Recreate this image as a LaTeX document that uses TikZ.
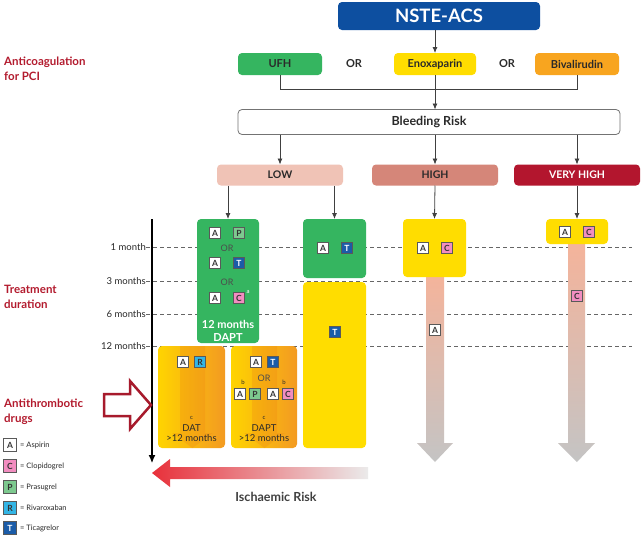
\documentclass[tikz,border=0pt]{standalone}
\usepackage{fontspec}
\setmainfont{Lato}
\usetikzlibrary{arrows.meta}
\definecolor{nsteblue}{HTML}{0D4FA0}
\definecolor{ggreen}{HTML}{35B560}
\definecolor{gyellow}{HTML}{FFDD00}
\definecolor{gorange}{HTML}{F8A51F}
\definecolor{lowc}{HTML}{F0C3B6}
\definecolor{highc}{HTML}{D58679}
\definecolor{vhighc}{HTML}{B3162E}
\definecolor{redlab}{HTML}{B31B2E}
\definecolor{redarr}{HTML}{A71A2C}
\definecolor{salmon}{HTML}{F5B39A}
\definecolor{greyend}{HTML}{C4C4C4}
\definecolor{icP}{HTML}{7DC98F}
\definecolor{icT}{HTML}{1B5CA8}
\definecolor{icC}{HTML}{F28DC0}
\definecolor{icR}{HTML}{33B5E5}
\definecolor{txt}{HTML}{2A2A2A}
\definecolor{orL}{HTML}{FFD400}
\definecolor{orR}{HTML}{F39A22}
\definecolor{isRed}{HTML}{E8303A}
\tikzset{
  box/.style={rounded corners=4pt, inner sep=0pt, outer sep=0pt, font=\bfseries\fontsize{11}{13}\selectfont, text=txt},
  riskbox/.style={box, font=\bfseries\fontsize{10.5}{12}\selectfont},
  arr/.style={-{Latex[length=6pt,width=5pt]}, line width=0.8pt, draw=black!75},
  conn/.style={line width=0.8pt, draw=black!75},
  grid/.style={dashed, dash pattern=on 4pt off 3pt, line width=0.8pt, draw=black!60},
  tlab/.style={anchor=east, font=\fontsize{9.5}{11}\selectfont, text=txt, inner sep=0pt},
  redl/.style={anchor=north west, align=left, font=\bfseries\fontsize{11.5}{15}\selectfont, text=redlab, inner sep=0pt},
  icon/.style={draw=black!65, line width=0.7pt, minimum size=11.5pt, inner sep=0pt, font=\bfseries\fontsize{8.5}{9}\selectfont, text=black!80},
  iA/.style={icon, fill=white},
  iP/.style={icon, fill=icP},
  iT/.style={icon, fill=icT, text=white},
  iC/.style={icon, fill=icC},
  iR/.style={icon, fill=icR},
  ortxt/.style={font=\fontsize{9}{10}\selectfont, text=black!70, inner sep=0pt},
  supt/.style={font=\fontsize{6}{7}\selectfont, inner sep=0pt},
  legt/.style={anchor=west, font=\fontsize{7.5}{8}\selectfont, text=txt, inner sep=0pt},
  otxt/.style={align=center, font=\fontsize{9.5}{10.5}\selectfont, text=txt, inner sep=0pt},
}
\begin{document}
\begin{tikzpicture}[x=1pt,y=-1pt]
\useasboundingbox (0,0) rectangle (641,536);
\fill[white] (0,0) rectangle (641,536);

% left red labels
\node[redl] (lab1) at (4,57) {Anticoagulation\\for PCI};
\node[redl] (lab2) at (4,285) {Treatment\\duration};
\node[redl] (lab3) at (4,399) {Antithrombotic\\drugs};

% top
\node[box, fill=nsteblue, text=white, minimum width=202pt, minimum height=28pt, font=\bfseries\fontsize{18.5}{20}\selectfont] (nste) at (439,16) {NSTE-ACS};
\node[box, fill=ggreen, minimum width=84pt, minimum height=22pt] (ufh) at (280,64) {UFH};
\node[box, fill=gyellow, minimum width=82pt, minimum height=22pt] (enox) at (435,64) {Enoxaparin};
\node[box, fill=gorange, minimum width=84pt, minimum height=22pt] (biv) at (577,64) {Bivalirudin};
\node[font=\bfseries\fontsize{11}{13}\selectfont, text=txt] (or1) at (354,64) {OR};
\node[font=\bfseries\fontsize{11}{13}\selectfont, text=txt] (or2) at (507,64) {OR};
\node[box, draw=black!55, line width=0.8pt, fill=white, minimum width=382pt, minimum height=25pt, font=\bfseries\fontsize{12.5}{14}\selectfont] (bleed) at (429,122) {Bleeding Risk};

\draw[arr] (nste.south -| enox) -- (enox.north);
\draw[conn] (ufh.south) -- ++(0,14) -| (biv.south);
\draw[arr] (enox.south) -- (bleed.north -| enox);

\node[riskbox, fill=lowc, minimum width=126pt, minimum height=21pt] (low) at (280,175) {LOW};
\node[riskbox, fill=highc, minimum width=126pt, minimum height=21pt] (high) at (435,175) {HIGH};
\node[riskbox, fill=vhighc, text=white, minimum width=126pt, minimum height=21pt] (vhigh) at (577,175) {VERY HIGH};
\draw[arr] (bleed.south -| low) -- (low.north);
\draw[arr] (bleed.south -| high) -- (high.north);
\draw[arr] (bleed.south -| vhigh) -- (vhigh.north);

% dashed time grid
\node[tlab] (m1) at (146,247) {1 month};
\node[tlab] (m3) at (146,281) {3 months};
\node[tlab] (m6) at (146,314) {6 months};
\node[tlab] (m12) at (146,346) {12 months};
\coordinate (e1) at (632,247);
\coordinate (e3) at (632,281);
\coordinate (e6) at (632,314);
\coordinate (e12) at (632,346);
\draw[grid] (m1.east) -- (e1);
\draw[grid] (m3.east) -- (e3);
\draw[grid] (m6.east) -- (e6);
\draw[grid] (m12.east) -- (e12);

% axis
\coordinate (axtop) at (152,219);
\coordinate (axbot) at (152,463);
\draw[-{Latex[length=8pt,width=7pt]}, line width=1.1pt] (axtop) -- (axbot);

% gradient arrows (high, very high)
\shade[top color=salmon, bottom color=greyend] (426,272) -- (444,272) -- (444,443) -- (453,443) -- (435,462) -- (417,443) -- (426,443) -- cycle;
\shade[top color=salmon, bottom color=greyend] (568,240) -- (585,240) -- (585,443) -- (595,443) -- (577,462) -- (558,443) -- (568,443) -- cycle;

% boxes
\node[box, fill=ggreen, minimum width=62pt, minimum height=124pt] (g1) at (228,281) {};
\node[box, fill=ggreen, minimum width=63pt, minimum height=59pt] (g2) at (334.5,248.5) {};
\node[box, fill=gyellow, minimum width=63pt, minimum height=166pt] (ytall) at (334.5,365) {};
\node[box, fill=gyellow, minimum width=63pt, minimum height=58pt] (yhigh) at (434.5,248) {};
\node[box, fill=gyellow, minimum width=62pt, minimum height=25pt] (yvh) at (577,231.5) {};
\node[box, minimum width=67pt, minimum height=102pt] (dat) at (191.5,397) {};
\node[box, minimum width=66pt, minimum height=102pt] (dapt) at (264,397) {};
\shade[rounded corners=4pt, left color=orL, right color=orR] (dat.north west) rectangle (dat.south east);
\shade[rounded corners=4pt, left color=orL, right color=orR] (dapt.north west) rectangle (dapt.south east);

% inner darker arrow bands
\fill[orange!70!brown, opacity=0.25] (180,346) -- (205,346) -- (205,433) -- (213,433) -- (192.5,448) -- (172,433) -- (180,433) -- cycle;
\fill[orange!70!brown, opacity=0.25] (252,346) -- (277,346) -- (277,433) -- (285,433) -- (264.5,448) -- (244,433) -- (252,433) -- cycle;

\draw[arr] (low.south -| g1) -- (g1.north);
\draw[arr] (low.south -| g2) -- (g2.north);
\draw[arr] (high.south) -- (yhigh.north);
\draw[arr] (vhigh.south) -- (yvh.north);

% green box 1 contents
\node[iA] (g1a1) at (215,233) {A};
\node[iP] (g1p) at (239,233) {P};
\node[ortxt] (g1or1) at (227,248) {OR};
\node[iA] (g1a2) at (215,263) {A};
\node[iT] (g1t) at (239,263) {T};
\node[ortxt] (g1or2) at (227,282) {OR};
\node[iA] (g1a3) at (215,298) {A};
\node[iC] (g1c) at (239,298) {C};
\node[supt, text=white] (g1sa) at (248,292) {a};
\node[otxt, text=white, font=\bfseries\fontsize{11}{12.5}\selectfont] (g1txt) at (228,331) {12 months\\DAPT};

% green box 2
\node[iA] (g2a) at (323,248) {A};
\node[iT] (g2t) at (347,248) {T};
% tall yellow
\node[iT] (ytt) at (335,332) {T};
% high box
\node[iA] (yha) at (423,248) {A};
\node[iC] (yhc) at (447,248) {C};
\node[iA] (hia) at (435,330) {A};
% very high
\node[iA] (yva) at (565,232) {A};
\node[iC] (yvc) at (589,232) {C};
\node[iC] (vhc) at (577,296) {C};

% DAT box
\node[iA] (da) at (183,362) {A};
\node[iR] (dr) at (200,362) {R};
\node[supt, text=txt] (dsc) at (191.5,418) {c};
\node[otxt] (dtxt) at (191.5,433) {DAT\\{>}12 months};
% DAPT box
\node[iA] (pa) at (256,362) {A};
\node[iT] (pt) at (273,362) {T};
\node[ortxt] (por) at (264,378) {OR};
\node[supt, text=txt] (pb1) at (243,382) {b};
\node[iA] (pa2) at (240,394) {A};
\node[iP] (pp) at (255,394) {P};
\node[iA] (pa3) at (273,394) {A};
\node[iC] (pc) at (288,394) {C};
\node[supt, text=txt] (pb2) at (284,382) {b};
\node[supt, text=txt] (psc) at (264,418) {c};
\node[otxt] (ptxt) at (264,433) {DAPT\\{>}12 months};

% red outlined arrow
\draw[draw=redarr, line width=2.5pt, fill=white, line join=miter] (104,394) -- (130,394) -- (130,381) -- (151,405) -- (130,429) -- (130,416) -- (104,416) -- cycle;

% ischaemic risk arrow
\shade[left color=isRed, right color=black!8] (368,467) -- (170,467) -- (170,459) -- (152,473) -- (170,487) -- (170,479) -- (368,479) -- cycle;
\node[font=\bfseries\fontsize{12.5}{14}\selectfont, text=black!75] (isch) at (276,497) {Ischaemic Risk};

% legend
\node[iA, minimum size=13pt] (lA) at (10,445) {A};
\node[legt] (lAt) at (20,445) {= Aspirin};
\node[iC, minimum size=13pt] (lC) at (10,466) {C};
\node[legt] (lCt) at (20,466) {= Clopidogrel};
\node[iP, minimum size=13pt] (lP) at (10,487) {P};
\node[legt] (lPt) at (20,487) {= Prasugrel};
\node[iR, minimum size=13pt] (lR) at (10,508) {R};
\node[legt] (lRt) at (20,508) {= Rivaroxaban};
\node[iT, minimum size=13pt] (lT) at (10,528) {T};
\node[legt] (lTt) at (20,528) {= Ticagrelor};
\end{tikzpicture}
\end{document}
